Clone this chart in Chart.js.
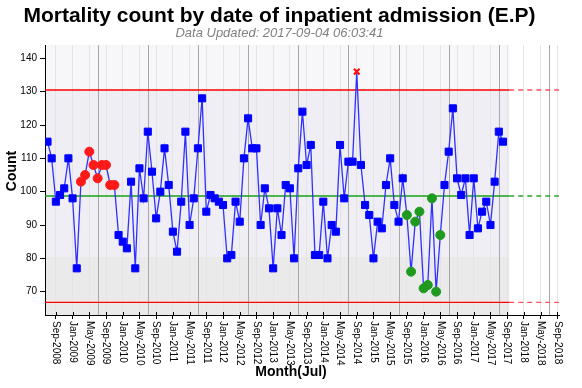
<!DOCTYPE html>
<html>
<head>
<meta charset="utf-8">
<style>
  html, body { margin: 0; padding: 0; background: #fff; }
  #wrap { width: 582px; height: 388px; }
</style>
<script src="https://cdn.jsdelivr.net/npm/chart.js@4.4.1/dist/chart.umd.min.js"></script>
</head>
<body>
<div id="wrap"><canvas id="chart"></canvas></div>
<script>
// monthly mortality counts, Jul-2008 .. Aug-2017 (index 0 = Jul-2008)
const counts = [
  115, 110, 97, 99, 101, 110, 98, 77, 103, 105, 112, 108,
  104, 108, 108, 102, 102, 87, 85, 83, 103, 77, 107, 98,
  118, 106, 92, 100, 113, 102, 88, 82, 97, 118, 90, 98,
  113, 128, 94, 99, 98, 97, 96, 80, 81, 97, 91, 110,
  122, 113, 113, 90, 101, 95, 77, 95, 87, 102, 101, 80,
  107, 124, 108, 114, 81, 81, 97, 80, 90, 88, 114, 98,
  109, 109, 136, 108, 96, 93, 80, 91, 89, 102, 110, 96,
  91, 104, 93, 76, 91, 94, 71, 72, 98, 70, 87, 102,
  112, 125, 104, 99, 104, 87, 104, 89, 94, 97, 90, 103,
  118, 115
];

// flagged points (month index)
const runAbove = [8, 9, 10, 11, 12, 13, 14, 15, 16];
const runBelow = [86, 87, 88, 89, 90, 91, 92, 93, 94];
const beyondLimit = [74];

// control limits
const ucl = 130.5;
const centre = 98.7;
const lcl = 66.8;
const lowZone = 80.5;

const tickLabels = [
  'Sep-2008', 'Jan-2009', 'May-2009', 'Sep-2009', 'Jan-2010', 'May-2010',
  'Sep-2010', 'Jan-2011', 'May-2011', 'Sep-2011', 'Jan-2012', 'May-2012',
  'Sep-2012', 'Jan-2013', 'May-2013', 'Sep-2013', 'Jan-2014', 'May-2014',
  'Sep-2014', 'Jan-2015', 'May-2015', 'Sep-2015', 'Jan-2016', 'May-2016',
  'Sep-2016', 'Jan-2017', 'May-2017', 'Sep-2017', 'Jan-2018', 'May-2018',
  'Sep-2018'
];
const firstTick = 2;   // Sep-2008
const tickStep = 4;
const yearStarts = [12, 24, 36, 48, 60, 72, 84, 96, 108, 120]; // each July
const yTicks = [70, 80, 90, 100, 110, 120, 130, 140];

const xMin = -0.6, xMax = 122.4;
const dataEnd = counts.length + 0.5;
const FONT = '"Liberation Sans", Arial, sans-serif';

const has = (arr, i) => arr.indexOf(i) >= 0;

const backdrop = {
  id: 'backdrop',
  beforeDraw(chart) {
    const { ctx, chartArea: a, scales: { x, y } } = chart;
    const xe = x.getPixelForValue(dataEnd);
    const yu = y.getPixelForValue(ucl);
    const yz = y.getPixelForValue(lowZone);
    ctx.save();
    ctx.fillStyle = '#f7f7f9';
    ctx.fillRect(a.left, a.top, xe - a.left, yu - a.top);
    ctx.fillStyle = '#eeeef4';
    ctx.fillRect(a.left, yu, xe - a.left, yz - yu);
    ctx.fillStyle = '#eaeaea';
    ctx.fillRect(a.left, yz, xe - a.left, a.bottom - yz);
    ctx.restore();
  },
  beforeDatasetsDraw(chart) {
    const { ctx, chartArea: a, scales: { x } } = chart;
    ctx.save();
    ctx.strokeStyle = '#a8a8a8';
    ctx.lineWidth = 1;
    yearStarts.forEach(m => {
      const px = Math.round(x.getPixelForValue(m)) + 0.5;
      ctx.beginPath();
      ctx.moveTo(px, a.top);
      ctx.lineTo(px, a.bottom);
      ctx.stroke();
    });
    ctx.restore();
  },
  afterDraw(chart) {
    const { ctx, chartArea: a, scales: { x } } = chart;
    ctx.save();
    // tick labels, read top to bottom
    ctx.fillStyle = '#000';
    ctx.font = '10px ' + FONT;
    ctx.textAlign = 'left';
    ctx.textBaseline = 'middle';
    ctx.strokeStyle = '#000';
    tickLabels.forEach((lab, i) => {
      const px = x.getPixelForValue(firstTick + i * tickStep);
      ctx.beginPath();
      ctx.moveTo(Math.round(px) + 0.5, a.bottom - 3);
      ctx.lineTo(Math.round(px) + 0.5, a.bottom);
      ctx.stroke();
      ctx.save();
      ctx.translate(px, a.bottom + 6);
      ctx.rotate(Math.PI / 2);
      ctx.fillText(lab, 0, 0);
      ctx.restore();
    });
    // axis titles
    ctx.font = 'bold 14px ' + FONT;
    ctx.textAlign = 'center';
    ctx.fillText('Month(Jul)', 291, 372);
    ctx.translate(12, 171);
    ctx.rotate(-Math.PI / 2);
    ctx.fillText('Count', 0, 0);
    ctx.restore();
  }
};

const series = counts.map((v, i) => ({ x: i, y: v }));
const flatLine = (v, a, b) => [{ x: a, y: v }, { x: b, y: v }];

function pointColour(c) {
  const i = c.dataIndex;
  if (has(beyondLimit, i)) return '#ff1010';
  if (has(runAbove, i)) return '#ff1a1a';
  if (has(runBelow, i)) return '#1f9a1f';
  return '#0000ff';
}

const limitStyle = (colour, dashed) => ({
  borderColor: colour,
  borderWidth: 1.3,
  borderDash: dashed ? [5, 4] : [],
  pointRadius: 0,
  fill: false
});

new Chart(document.getElementById('chart'), {
  type: 'line',
  data: {
    datasets: [
      {
        label: 'Count',
        data: series,
        borderColor: '#3030ff',
        borderWidth: 1.3,
        tension: 0,
        fill: false,
        pointStyle: c => has(beyondLimit, c.dataIndex) ? 'crossRot'
          : (has(runAbove, c.dataIndex) || has(runBelow, c.dataIndex)) ? 'circle' : 'rect',
        pointRadius: c => has(beyondLimit, c.dataIndex) ? 4
          : (has(runAbove, c.dataIndex) || has(runBelow, c.dataIndex)) ? 4.5 : 5,
        pointBorderWidth: c => has(beyondLimit, c.dataIndex) ? 2.2 : 1,
        pointBackgroundColor: pointColour,
        pointBorderColor: pointColour
      },
      { label: 'UCL', data: flatLine(ucl, xMin, dataEnd), ...limitStyle('#ff0000', false) },
      { label: 'CL', data: flatLine(centre, xMin, dataEnd), ...limitStyle('#19a019', false) },
      { label: 'LCL', data: flatLine(lcl, xMin, dataEnd), ...limitStyle('#ff0000', false) },
      { label: 'UCL+', data: flatLine(ucl, dataEnd, xMax), ...limitStyle('#ff5060', true) },
      { label: 'CL+', data: flatLine(centre, dataEnd, xMax), ...limitStyle('#30a030', true) },
      { label: 'LCL+', data: flatLine(lcl, dataEnd, xMax), ...limitStyle('#ff5060', true) }
    ]
  },
  options: {
    responsive: true,
    maintainAspectRatio: false,
    animation: false,
    devicePixelRatio: 1,
    layout: { padding: { left: 0, right: 23, top: 0, bottom: 0 } },
    plugins: {
      legend: { display: false },
      tooltip: { enabled: false },
      title: {
        display: true,
        text: 'Mortality count by date of inpatient admission (E.P)',
        color: '#000',
        font: { family: FONT, size: 21, weight: 'bold', lineHeight: 1 },
        padding: { top: 6, bottom: 0 }
      },
      subtitle: {
        display: true,
        text: 'Data Updated: 2017-09-04 06:03:41',
        color: '#808080',
        font: { family: FONT, size: 13, style: 'italic', lineHeight: 1 },
        padding: { top: 0, bottom: 5 }
      }
    },
    scales: {
      x: {
        type: 'linear',
        min: xMin,
        max: xMax,
        afterBuildTicks: s => { s.ticks = tickLabels.map((_, i) => ({ value: firstTick + i * tickStep })); },
        afterFit: s => { s.height = 73; },
        ticks: { display: false },
        grid: { color: '#e4e4e4', tickColor: '#000', tickLength: 4 },
        border: { color: '#000', width: 1 }
      },
      y: {
        min: 63,
        max: 144,
        afterBuildTicks: s => { s.ticks = yTicks.map(v => ({ value: v })); },
        afterFit: s => { s.width = 45; },
        ticks: { color: '#000', font: { family: FONT, size: 10 }, padding: 3 },
        grid: { drawOnChartArea: false, tickColor: '#000', tickLength: 5 },
        border: { color: '#000', width: 1 }
      }
    }
  },
  plugins: [backdrop]
});
</script>
</body>
</html>
